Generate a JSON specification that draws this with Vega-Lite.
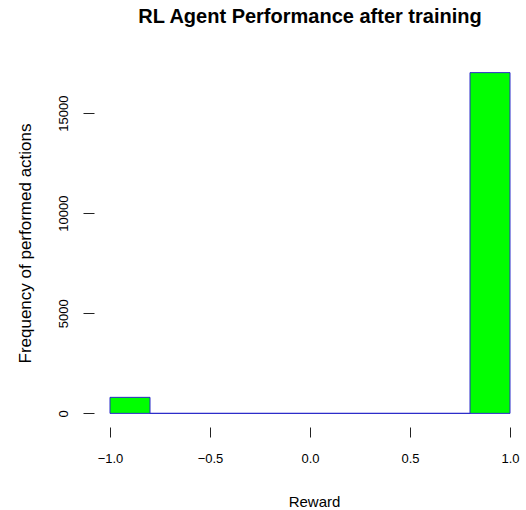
{
  "$schema": "https://vega.github.io/schema/vega-lite/v6.json",
  "width": 432,
  "height": 368,
  "autosize": {"type": "none"},
  "padding": {"left": 94, "top": 59, "right": 0, "bottom": 83},
  "background": "white",
  "config": {"view": {"stroke": null}},
  "title": {
    "text": "RL Agent Performance after training",
    "font": "Liberation Sans",
    "fontSize": 20,
    "fontWeight": "bold",
    "color": "black",
    "anchor": "middle",
    "baseline": "alphabetic",
    "offset": 16
  },
  "layer": [
    {
      "data": {
        "values": [
          {"lo": -1.0, "hi": -0.8, "n": 800},
          {"lo": -0.8, "hi": -0.6, "n": 0},
          {"lo": -0.6, "hi": -0.4, "n": 0},
          {"lo": -0.4, "hi": -0.2, "n": 0},
          {"lo": -0.2, "hi": 0.0, "n": 0},
          {"lo": 0.0, "hi": 0.2, "n": 0},
          {"lo": 0.2, "hi": 0.4, "n": 0},
          {"lo": 0.4, "hi": 0.6, "n": 0},
          {"lo": 0.6, "hi": 0.8, "n": 0},
          {"lo": 0.8, "hi": 1.0, "n": 17020}
        ]
      },
      "mark": {"type": "bar", "fill": "#00ff00", "stroke": "#2a2ac8", "strokeWidth": 1},
      "encoding": {
        "x": {
          "field": "lo",
          "type": "quantitative",
          "scale": {"domain": [-1.08, 1.08], "nice": false, "zero": false},
          "axis": {
            "values": [-1, -0.5, 0, 0.5, 1],
            "format": ".1f",
            "domain": false,
            "grid": false,
            "tickSize": 10,
            "tickColor": "#222",
            "labelFont": "Liberation Sans",
            "labelFontSize": 13,
            "labelColor": "black",
            "labelPadding": 15,
            "labelBaseline": "top",
            "labelFlush": false,
            "title": "Reward",
            "titleFont": "Liberation Sans",
            "titleFontSize": 15,
            "titleFontWeight": "normal",
            "titleColor": "black",
            "titleBaseline": "alphabetic",
            "titleAlign": "center",
            "titleX": 220,
            "titleY": 79
          }
        },
        "x2": {"field": "hi"},
        "y": {
          "field": "n",
          "type": "quantitative",
          "scale": {"domain": [-681, 17701], "nice": false, "zero": false},
          "axis": {
            "values": [0, 5000, 10000, 15000],
            "format": "d",
            "domain": false,
            "grid": false,
            "tickSize": 11,
            "tickColor": "#222",
            "labelFont": "Liberation Sans",
            "labelFontSize": 13,
            "labelColor": "black",
            "labelAngle": 270,
            "labelAlign": "center",
            "labelBaseline": "alphabetic",
            "labelPadding": 16,
            "labelFlush": false,
            "title": "Frequency of performed actions",
            "titleFont": "Liberation Sans",
            "titleFontSize": 17,
            "titleFontWeight": "normal",
            "titleColor": "black",
            "titleAngle": 270,
            "titleAlign": "center",
            "titleBaseline": "alphabetic",
            "titleX": -64,
            "titleY": 184
          }
        },
        "y2": {"datum": 0}
      }
    },
    {
      "mark": {"type": "rule", "color": "#222", "strokeWidth": 1},
      "encoding": {
        "x": {"datum": -1, "type": "quantitative"},
        "x2": {"datum": 1},
        "y": {"datum": -681, "type": "quantitative"}
      }
    },
    {
      "mark": {"type": "rule", "color": "#222", "strokeWidth": 1},
      "encoding": {
        "x": {"datum": -1.08, "type": "quantitative"},
        "y": {"datum": 0, "type": "quantitative"},
        "y2": {"datum": 15000}
      }
    }
  ]
}
